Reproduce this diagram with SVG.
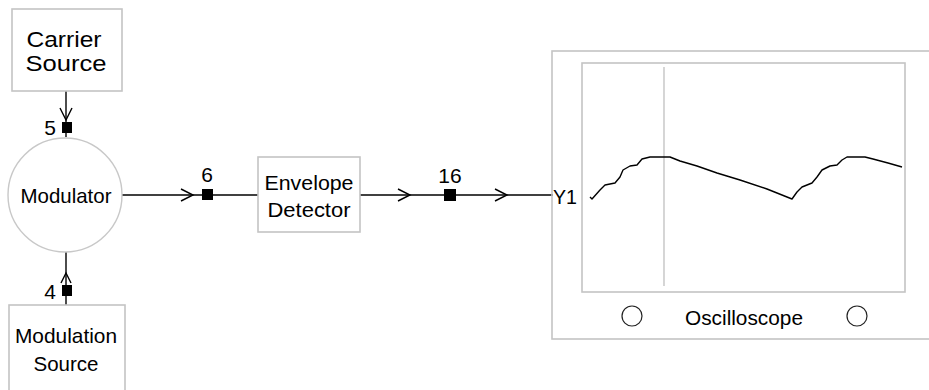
<svg xmlns="http://www.w3.org/2000/svg" width="929" height="390" viewBox="0 0 929 390">
<style>
.box{fill:#fff;stroke:#c4c4c4;stroke-width:1.6}
.frame{fill:none;stroke:#c4c4c4;stroke-width:1.6}
.t{font-family:"Liberation Sans",Arial,sans-serif;font-size:21px;fill:#000}
.big{font-size:22px}
.wire{fill:none;stroke:#000;stroke-width:1.4}
.chev{fill:none;stroke:#000;stroke-width:1.4;stroke-linejoin:miter}
.pin{fill:#000}
.trace{fill:none;stroke:#000;stroke-width:1.4;stroke-linejoin:round}
.knob{fill:#fff;stroke:#222;stroke-width:1.2}
</style>
<rect width="929" height="390" fill="#fff"/>
<g id="connectors">
  <line class="wire" x1="66" y1="91" x2="66" y2="137"/>
  <polyline class="chev" points="60,108 66,120 72,108"/>
  <rect class="pin" x="62" y="122" width="10" height="11"/>
  <text class="t" x="50" y="135" text-anchor="middle">5</text>

  <line class="wire" x1="66" y1="252" x2="66" y2="305"/>
  <polyline class="chev" points="61,283 66,273 71,283"/>
  <rect class="pin" x="62" y="285" width="10" height="11"/>
  <text class="t" x="50" y="299" text-anchor="middle">4</text>

  <line class="wire" x1="122" y1="195" x2="258" y2="195"/>
  <polyline class="chev" points="181,189 193,195 181,201"/>
  <rect class="pin" x="202" y="189" width="11" height="11"/>
  <text class="t" x="207" y="182" text-anchor="middle">6</text>

  <line class="wire" x1="360" y1="195" x2="553" y2="195"/>
  <polyline class="chev" points="398,189 410,195 398,201"/>
  <rect class="pin" x="444" y="189" width="12" height="12"/>
  <text class="t" x="450" y="183" text-anchor="middle">16</text>
  <polyline class="chev" points="495,189 507,195 495,201"/>
</g>
<g id="carrier-source">
  <rect class="box" x="12" y="9" width="110" height="82"/>
  <text class="t big" x="64" y="47" text-anchor="middle" textLength="75" lengthAdjust="spacingAndGlyphs">Carrier</text>
  <text class="t big" x="66" y="71" text-anchor="middle" textLength="81" lengthAdjust="spacingAndGlyphs">Source</text>
</g>
<g id="modulator">
  <circle cx="65" cy="195" r="57" fill="#fff" stroke="#c8c8c8" stroke-width="1.4"/>
  <text class="t" x="66" y="203" text-anchor="middle" textLength="91" lengthAdjust="spacingAndGlyphs">Modulator</text>
</g>
<g id="modulation-source">
  <rect class="box" x="9" y="305" width="116" height="95"/>
  <text class="t" x="66" y="343" text-anchor="middle" textLength="102" lengthAdjust="spacingAndGlyphs">Modulation</text>
  <text class="t" x="66" y="371" text-anchor="middle" textLength="65" lengthAdjust="spacingAndGlyphs">Source</text>
</g>
<g id="envelope-detector">
  <rect class="box" x="258" y="157" width="102" height="75"/>
  <text class="t" x="309" y="190" text-anchor="middle" textLength="89" lengthAdjust="spacingAndGlyphs">Envelope</text>
  <text class="t" x="309" y="217" text-anchor="middle" textLength="83" lengthAdjust="spacingAndGlyphs">Detector</text>
</g>
<g id="oscilloscope">
  <rect class="frame" x="552" y="51" width="390" height="288"/>
  <rect class="frame" x="582" y="63" width="323" height="229"/>
  <line x1="664" y1="67" x2="664" y2="286" stroke="#c4c4c4" stroke-width="1.4"/>
  <polyline class="trace" points="590,197 592,199 600,190 605,185 615,183 620,177 623,170 630,166 637,165 642,159 650,157 655,157 670,157 680,161 697,166 717,173 740,180 767,189 792,199 797,192 802,187 812,183 817,177 822,170 830,166 837,165 842,160 847,157 865,157 873,159 888,163 902,167"/>
  <circle class="knob" cx="632" cy="316" r="10"/>
  <circle class="knob" cx="857" cy="316" r="10"/>
  <text class="t" x="744" y="325" text-anchor="middle" textLength="118" lengthAdjust="spacingAndGlyphs">Oscilloscope</text>
  <text class="t" x="553" y="204" textLength="24" lengthAdjust="spacingAndGlyphs">Y1</text>
</g>
</svg>
